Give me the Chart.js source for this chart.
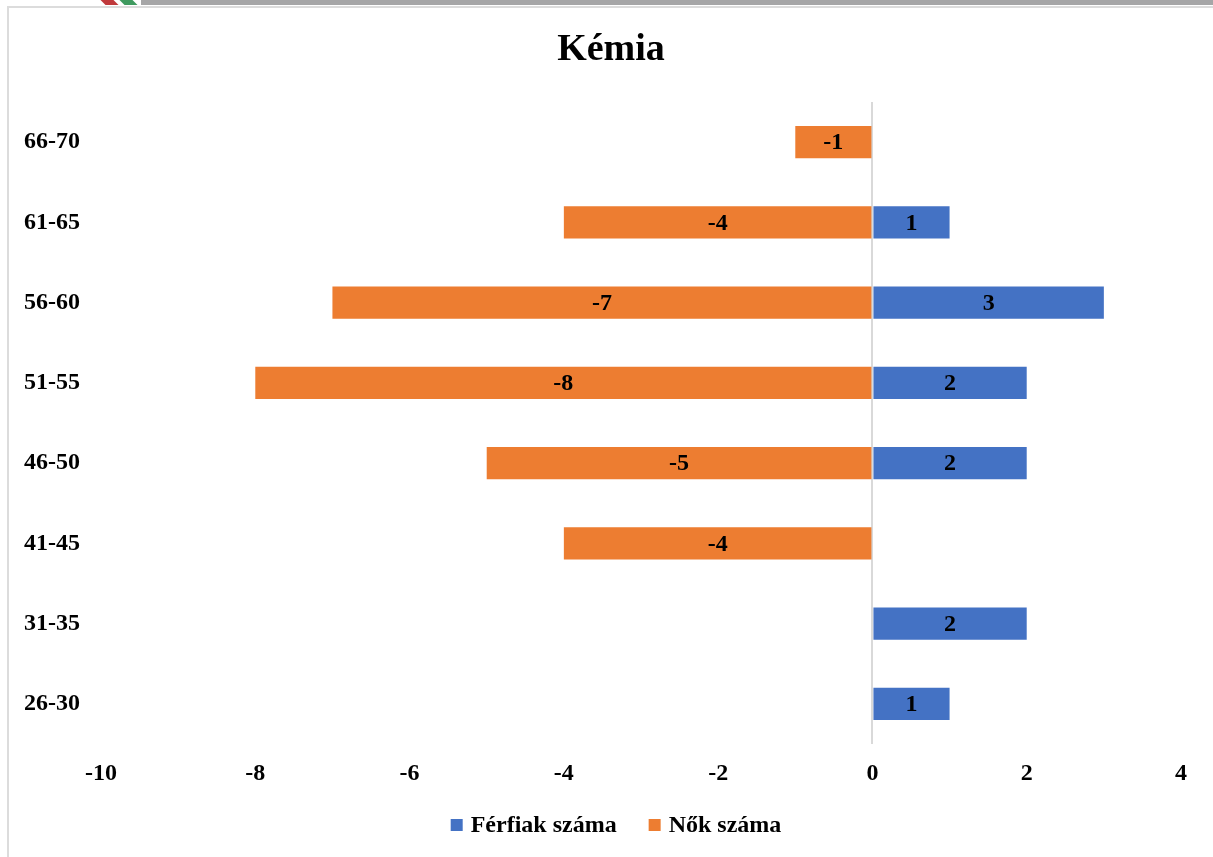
<!DOCTYPE html>
<html>
<head>
<meta charset="utf-8">
<script src="https://cdn.jsdelivr.net/npm/chart.js@4/dist/chart.umd.min.js"></script>
<style>
  html, body { margin: 0; padding: 0; background: #fff; }
  #wrap { position: relative; width: 1213px; height: 857px; overflow: hidden; }
  .topbar { position: absolute; top: 0; left: 141px; right: 0; height: 5px; background: #a6a6a7; }
  .stripe { position: absolute; top: 0; height: 5px; width: 13px; transform: skewX(45deg); }
  .frame { position: absolute; left: 7px; top: 6px; width: 1300px; height: 900px;
           border-left: 2px solid #dcdcdc; border-top: 2px solid #dcdcdc; }
  canvas { position: absolute; left: 0; top: 0; }
</style>
</head>
<body>
<div id="wrap">
  <div class="topbar"></div>
  <div class="stripe" style="left:103px;background:#c0393b"></div>
  <div class="stripe" style="left:122px;background:#3f9a5f"></div>
  <div class="frame"></div>
  <canvas id="kemiaChart" width="1213" height="857"></canvas>
</div>
<script>
// Kémia - korfa
const ageGroups = ['66-70', '61-65', '56-60', '51-55', '46-50', '41-45', '31-35', '26-30'];
const menCounts = [null, 1, 3, 2, 2, null, 2, 1];
const womenCounts = [-1, -4, -7, -8, -5, -4, null, null];
const xMin = -10;
const xMax = 4;
const chartTitle = 'Kémia';

const serif = '"Liberation Serif", "Times New Roman", serif';
const boldFont = 'bold 24px ' + serif;

// values written in the middle of each bar
const barLabels = {
    id: 'barLabels',
    afterDatasetsDraw(chart) {
        const ctx = chart.ctx;
        ctx.save();
        ctx.font = boldFont;
        ctx.fillStyle = '#000';
        ctx.textAlign = 'center';
        ctx.textBaseline = 'middle';
        chart.data.datasets.forEach((ds, i) => {
            chart.getDatasetMeta(i).data.forEach((bar, j) => {
                const v = ds.data[j];
                if (v === null) return;
                ctx.fillText(String(v), (bar.x + bar.base) / 2, bar.y + 1);
            });
        });
        ctx.restore();
    }
};

// title + legend drawn by hand so they sit where the office chart has them
const titleAndLegend = {
    id: 'titleAndLegend',
    afterDraw(chart) {
        const ctx = chart.ctx;
        ctx.save();
        ctx.fillStyle = '#000';
        ctx.textAlign = 'center';
        ctx.textBaseline = 'middle';
        ctx.font = 'bold 38px ' + serif;
        ctx.fillText(chartTitle, 611, 50);

        const y = 825;
        ctx.font = boldFont;
        ctx.textAlign = 'left';
        const items = chart.data.datasets.map(ds => ({
            text: ds.label,
            color: ds.backgroundColor,
            w: 12 + 8 + ctx.measureText(ds.label).width
        }));
        const total = items.reduce((s, it) => s + it.w, 0) + 32 * (items.length - 1);
        let x = 616 - total / 2;
        items.forEach(it => {
            ctx.fillStyle = it.color;
            ctx.fillRect(x, y - 6, 12, 12);
            ctx.fillStyle = '#000';
            ctx.fillText(it.text, x + 20, y + 1);
            x += it.w + 32;
        });
        ctx.restore();
    }
};

new Chart(document.getElementById('kemiaChart').getContext('2d'), {
    type: 'bar',
    data: {
        labels: ageGroups,
        datasets: [{
            label: 'Férfiak száma',
            data: menCounts,
            backgroundColor: '#4472c4',
            barPercentage: 0.4,
            categoryPercentage: 1
        }, {
            label: 'Nők száma',
            data: womenCounts,
            backgroundColor: '#ed7d31',
            barPercentage: 0.4,
            categoryPercentage: 1
        }]
    },
    options: {
        indexAxis: 'y',
        responsive: false,
        animation: false,
        layout: { padding: { left: 24, right: 32, top: 102, bottom: 0 } },
        scales: {
            x: {
                stacked: true,
                min: xMin,
                max: xMax,
                border: { display: false },
                grid: {
                    drawTicks: false,
                    color: c => c.tick && c.tick.value === 0 ? '#d9d9d9' : 'rgba(0,0,0,0)',
                    lineWidth: 2
                },
                ticks: {
                    stepSize: 2,
                    padding: 15,
                    color: '#000',
                    font: { family: serif, size: 24, weight: 'bold' }
                },
                afterFit: s => { s.height = 113; }
            },
            y: {
                stacked: true,
                border: { display: false },
                grid: { display: false },
                ticks: {
                    crossAlign: 'far',
                    color: '#000',
                    font: { family: serif, size: 24, weight: 'bold' }
                },
                afterFit: s => { s.width = 77; }
            }
        },
        plugins: {
            title: { display: false },
            legend: { display: false },
            tooltip: { enabled: false }
        }
    },
    plugins: [barLabels, titleAndLegend]
});
</script>
</body>
</html>
